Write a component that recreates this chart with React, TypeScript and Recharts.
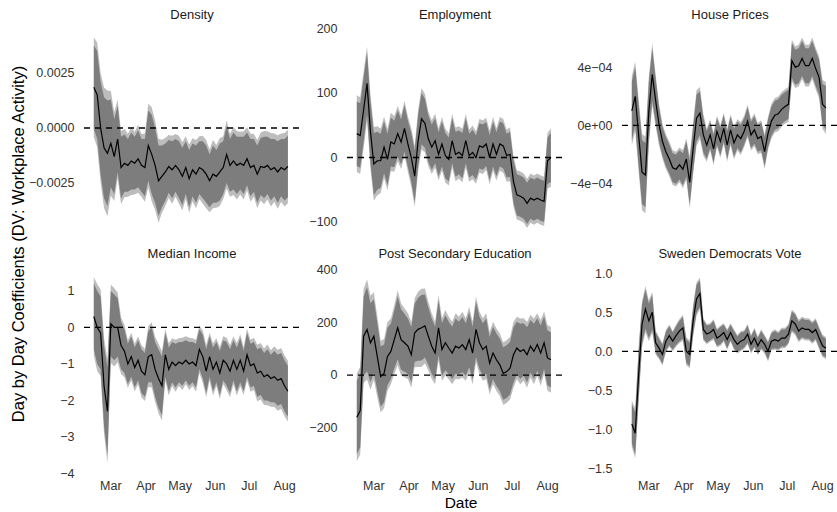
import React from 'react';
import { ComposedChart, Area, Line, XAxis, YAxis, ReferenceLine } from 'recharts';

// days since 15 Feb, sampled every third day
const days = [
  0, 3, 6, 9, 12, 15, 18, 21, 24, 27, 30, 33, 36, 39, 42, 45, 48, 51, 54, 57,
  60, 63, 66, 69, 72, 75, 78, 81, 84, 87, 90, 93, 96, 99, 102, 105, 108, 111, 114, 117,
  120, 123, 126, 129, 132, 135, 138, 141, 144, 147, 150, 153, 156, 159, 162, 165, 168, 171,
];
const monthTicks = [15, 46, 76, 107, 137, 168];
const monthLabels = ['Mar', 'Apr', 'May', 'Jun', 'Jul', 'Aug'];

// coefficient estimates and 90% interval half-widths, one pair per covariate
const density = [
  0.00185, 0.0015, 0.0, -0.0009, -0.00115, -0.0007, -0.0013, -0.0005, -0.0018, -0.0016,
  -0.0017, -0.0015, -0.0016, -0.0014, -0.0017, -0.0018, -0.0008, -0.0012, -0.0017, -0.0024,
  -0.0022, -0.002, -0.00175, -0.0019, -0.0017, -0.0019, -0.0022, -0.0018, -0.0023, -0.0019,
  -0.0021, -0.0018, -0.0019, -0.0021, -0.0024, -0.0021, -0.0022, -0.002, -0.0018, -0.0012,
  -0.0017, -0.0015, -0.0017, -0.0016, -0.0017, -0.0014, -0.0018, -0.0017, -0.0021, -0.00175,
  -0.0018, -0.0017, -0.0019, -0.0018, -0.002, -0.0018, -0.0019, -0.00175,
];
const densityCi = [
  0.0019, 0.002, 0.0021, 0.0023, 0.0024, 0.002, 0.0017, 0.0015, 0.0014, 0.0013,
  0.0012, 0.0013, 0.0012, 0.0013, 0.0012, 0.0013, 0.0016, 0.0018, 0.0017, 0.0016,
  0.0014, 0.0013, 0.0012, 0.0013, 0.0012, 0.0013, 0.0013, 0.0012, 0.0013, 0.0012,
  0.0013, 0.0012, 0.0013, 0.0013, 0.0012, 0.0013, 0.0012, 0.0013, 0.0012, 0.0013,
  0.0012, 0.0013, 0.0013, 0.0012, 0.0013, 0.0012, 0.0013, 0.0012, 0.0013, 0.0013,
  0.0014, 0.0013, 0.0014, 0.0013, 0.0014, 0.0013, 0.0014, 0.0014,
];

const employment = [
  37, 34, 74, 115, 40, -10, -5, -5, 16, -3,
  24, 21, 37, 24, 45, 21, 0, -29, 26, 60,
  53, 29, 16, 26, 5, 21, 3, -3, 26, 5,
  8, 3, 26, 3, 8, 0, 18, 16, 21, 0,
  21, 5, 21, 18, 3, 5, -37, -58, -60, -63,
  -71, -63, -66, -63, -66, -68, -5, 0,
];
const employmentCi = [
  50, 50, 50, 48, 48, 48, 45, 42, 40, 40,
  38, 36, 36, 35, 36, 36, 38, 40, 40, 40,
  38, 36, 35, 35, 34, 35, 35, 34, 35, 35,
  34, 35, 35, 34, 35, 34, 35, 35, 34, 35,
  35, 34, 35, 35, 34, 35, 33, 32, 32, 32,
  32, 32, 32, 32, 32, 32, 36, 38,
];

const housePrices = [
  1.0e-4, 2.0e-4, -0.65e-4, -3.2e-4, -3.4e-4, 1.0e-4, 3.5e-4, 1.7e-4, 0.05e-4, -1.1e-4,
  -1.8e-4, -2.3e-4, -2.9e-4, -3.0e-4, -2.7e-4, -3.0e-4, -2.3e-4, -3.9e-4, -1.6e-4, 0.5e-4,
  0.85e-4, -0.65e-4, -1.35e-4, -0.65e-4, -1.6e-4, -0.4e-4, -1.1e-4, -0.2e-4, -1.35e-4, -0.3e-4,
  -1.2e-4, -0.65e-4, -0.9e-4, -0.4e-4, 0.3e-4, -0.65e-4, -0.3e-4, -0.9e-4, -0.75e-4, -1.8e-4,
  -0.55e-4, 0.3e-4, 0.7e-4, 0.8e-4, 1.1e-4, 1.3e-4, 1.45e-4, 4.45e-4, 4.0e-4, 4.1e-4,
  4.6e-4, 4.1e-4, 4.1e-4, 4.6e-4, 3.9e-4, 3.3e-4, 1.45e-4, 1.2e-4,
];
const housePricesCi = [
  2.0e-4, 2.0e-4, 2.1e-4, 2.2e-4, 2.2e-4, 2.0e-4, 1.8e-4, 1.5e-4, 1.2e-4, 1.0e-4,
  1.0e-4, 1.0e-4, 1.0e-4, 1.0e-4, 1.0e-4, 1.1e-4, 1.2e-4, 1.5e-4, 1.5e-4, 1.6e-4,
  1.5e-4, 1.2e-4, 0.95e-4, 0.9e-4, 0.95e-4, 0.9e-4, 0.95e-4, 0.9e-4, 0.95e-4, 0.9e-4,
  0.95e-4, 0.9e-4, 0.95e-4, 0.9e-4, 0.95e-4, 0.9e-4, 0.95e-4, 0.9e-4, 0.95e-4, 1.0e-4,
  0.95e-4, 1.0e-4, 1.0e-4, 1.0e-4, 1.0e-4, 1.0e-4, 1.0e-4, 1.2e-4, 1.2e-4, 1.2e-4,
  1.2e-4, 1.2e-4, 1.2e-4, 1.2e-4, 1.2e-4, 1.2e-4, 1.4e-4, 1.5e-4,
];

const medianIncome = [
  0.3, 0.0, -0.15, -1.6, -2.3, 0.1, 0.0, 0.0, -0.5, -0.65,
  -1.0, -0.8, -1.1, -0.9, -1.2, -1.3, -0.8, -0.75, -1.15, -1.4,
  -1.6, -0.75, -1.15, -0.95, -1.05, -0.95, -1.0, -0.9, -1.0, -0.95,
  -1.05, -0.6, -0.8, -1.2, -0.8, -1.15, -0.95, -1.25, -0.9, -1.0,
  -1.2, -0.9, -1.15, -0.9, -1.2, -0.75, -1.05, -1.0, -1.25, -1.2,
  -1.35, -1.3, -1.4, -1.35, -1.45, -1.4, -1.6, -1.75,
];
const medianIncomeCi = [
  0.9, 1.0, 1.0, 1.1, 1.2, 0.9, 0.9, 0.8, 0.65, 0.6,
  0.55, 0.55, 0.55, 0.55, 0.6, 0.6, 0.7, 0.75, 0.75, 0.8,
  0.8, 0.6, 0.6, 0.55, 0.6, 0.55, 0.6, 0.55, 0.6, 0.55,
  0.6, 0.55, 0.6, 0.6, 0.55, 0.6, 0.55, 0.6, 0.55, 0.6,
  0.6, 0.55, 0.6, 0.6, 0.55, 0.6, 0.6, 0.6, 0.65, 0.65,
  0.65, 0.7, 0.65, 0.7, 0.7, 0.7, 0.7, 0.7,
];

const postSecondary = [
  -161, -135, 148, 174, 123, 148, 71, -6, 6, 71,
  90, 135, 180, 135, 123, 110, 77, 161, 174, 180,
  187, 148, 110, 84, 180, 97, 123, 103, 84, 110,
  103, 116, 97, 135, 84, 174, 123, 97, 110, 45,
  84, 58, 39, 6, 13, 26, 77, 103, 90, 97,
  77, 110, 90, 116, 84, 123, 65, 58,
];
const postSecondaryCi = [
  140, 140, 150, 160, 150, 140, 130, 115, 110, 110,
  105, 110, 120, 115, 110, 105, 105, 110, 120, 125,
  120, 110, 105, 100, 105, 100, 105, 100, 100, 105,
  100, 105, 100, 105, 100, 105, 100, 100, 105, 100,
  100, 100, 100, 100, 100, 100, 105, 100, 105, 100,
  105, 100, 105, 100, 105, 100, 105, 105,
];

const swedenDemocrats = [
  -0.93, -1.05, -0.3, 0.35, 0.54, 0.39, 0.5, 0.11, 0.04, -0.04,
  0.13, 0.2, 0.13, 0.2, 0.26, 0.3, 0.0, -0.04, 0.39, 0.67,
  0.74, 0.28, 0.22, 0.24, 0.28, 0.17, 0.2, 0.24, 0.15, 0.24,
  0.15, 0.09, 0.13, 0.15, 0.22, 0.09, 0.17, 0.07, 0.15, 0.09,
  0.0, 0.13, 0.15, 0.13, 0.17, 0.17, 0.22, 0.39, 0.35, 0.26,
  0.3, 0.28, 0.28, 0.24, 0.28, 0.17, 0.07, 0.04,
];
const swedenDemocratsCi = [
  0.25, 0.27, 0.3, 0.25, 0.25, 0.22, 0.22, 0.13, 0.12, 0.12,
  0.12, 0.12, 0.11, 0.12, 0.13, 0.14, 0.15, 0.15, 0.17, 0.18,
  0.17, 0.12, 0.11, 0.1, 0.11, 0.1, 0.11, 0.1, 0.11, 0.1,
  0.11, 0.1, 0.11, 0.1, 0.11, 0.1, 0.11, 0.1, 0.11, 0.1,
  0.11, 0.1, 0.11, 0.1, 0.11, 0.11, 0.11, 0.12, 0.12, 0.12,
  0.12, 0.12, 0.12, 0.12, 0.12, 0.12, 0.12, 0.12,
];

// outer (95%) band relative to the inner (90%) one
const Z_RATIO = 1.96 / 1.645;

const FONT = '"Liberation Sans", Arial, Helvetica, sans-serif';
const AXIS_W = 70;
const PANEL_W = 216;
const PANEL_H = 208;
const PAD_TOP = 12; // room for the top tick label
const X_DOMAIN = [-8.65, 181.65];
const COL_X = [84, 347, 622];
const ROW_Y = [23.5, 265];
const TITLE_Y = [15, 254];

const minus = (s: string) => s.replace(/-/g, '\u2212');
const sci = (v: number) => {
  if (v === 0) return '0e+00';
  const exp = Math.floor(Math.log10(Math.abs(v)));
  const mant = Math.round(v / Math.pow(10, exp));
  const e = exp < 0 ? `-${String(-exp).padStart(2, '0')}` : `+${String(exp).padStart(2, '0')}`;
  return minus(`${mant}e${e}`);
};

interface PanelProps {
  title: string;
  mean: number[];
  ci: number[];
  domain: number[];
  ticks: number[];
  fmt: (v: number) => string;
  col: number;
  row: number;
}

function CoefPanel({ title, mean, ci, domain, ticks, fmt, col, row }: PanelProps) {
  const rows = days.map((day, i) => ({
    day,
    coef: mean[i],
    inner: [mean[i] - ci[i], mean[i] + ci[i]],
    outer: [mean[i] - ci[i] * Z_RATIO, mean[i] + ci[i] * Z_RATIO],
  }));
  const showDates = row === 1;
  const x0 = COL_X[col];
  return (
    <>
      <div
        style={{
          position: 'absolute',
          left: x0 + PANEL_W / 2 - 120,
          top: TITLE_Y[row] - 8,
          width: 240,
          lineHeight: '16px',
          textAlign: 'center',
          fontSize: 13,
          color: '#1a1a1a',
        }}
      >
        {title}
      </div>
      <div style={{ position: 'absolute', left: x0 - AXIS_W, top: ROW_Y[row] - PAD_TOP }}>
        <ComposedChart
          width={AXIS_W + PANEL_W}
          height={PAD_TOP + PANEL_H + (showDates ? 26 : 0)}
          data={rows}
          margin={{ top: PAD_TOP, right: 0, bottom: 0, left: 0 }}
        >
          <XAxis
            dataKey="day"
            type="number"
            domain={X_DOMAIN}
            allowDataOverflow
            ticks={monthTicks}
            interval={0}
            tickFormatter={(v: number) => monthLabels[monthTicks.indexOf(v)]}
            hide={!showDates}
            height={26}
            axisLine={false}
            tickLine={false}
            tickSize={0}
            tickMargin={8}
            tick={{ fill: '#333', fontSize: 12.5, fontFamily: FONT }}
          />
          <YAxis
            type="number"
            domain={domain}
            allowDataOverflow
            ticks={ticks}
            interval={0}
            tickFormatter={fmt}
            width={AXIS_W}
            axisLine={false}
            tickLine={false}
            tickSize={0}
            tickMargin={9.5}
            tick={{ fill: '#333', fontSize: 12.5, fontFamily: FONT }}
          />
          <Area dataKey="outer" type="linear" stroke="none" fill="#bdbdbd" fillOpacity={1} isAnimationActive={false} />
          <Area dataKey="inner" type="linear" stroke="none" fill="#7d7d7d" fillOpacity={1} isAnimationActive={false} />
          <ReferenceLine y={0} stroke="#000" strokeWidth={1.3} strokeDasharray="6 5" />
          <Line dataKey="coef" type="linear" stroke="#000" strokeWidth={1.2} dot={false} isAnimationActive={false} />
        </ComposedChart>
      </div>
    </>
  );
}

export default function App() {
  return (
    <div
      style={{
        position: 'absolute',
        left: 0,
        top: 0,
        width: 837,
        height: 512,
        overflow: 'hidden',
        background: '#fff',
        fontFamily: FONT,
      }}
    >
      <CoefPanel title="Density" mean={density} ci={densityCi} col={0} row={0}
        domain={[-0.00473, 0.00473]} ticks={[-0.0025, 0, 0.0025]} fmt={(v) => minus(v.toFixed(4))} />
      <CoefPanel title="Employment" mean={employment} ci={employmentCi} col={1} row={0}
        domain={[-115.5, 207]} ticks={[-100, 0, 100, 200]} fmt={(v) => minus(String(v))} />
      <CoefPanel title="House Prices" mean={housePrices} ci={housePricesCi} col={2} row={0}
        domain={[-7.31e-4, 6.96e-4]} ticks={[-4e-4, 0, 4e-4]} fmt={sci} />
      <CoefPanel title="Median Income" mean={medianIncome} ci={medianIncomeCi} col={0} row={1}
        domain={[-3.99, 1.71]} ticks={[-4, -3, -2, -1, 0, 1]} fmt={(v) => minus(String(v))} />
      <CoefPanel title="Post Secondary Education" mean={postSecondary} ci={postSecondaryCi} col={1} row={1}
        domain={[-373, 419]} ticks={[-200, 0, 200, 400]} fmt={(v) => minus(String(v))} />
      <CoefPanel title="Sweden Democrats Vote" mean={swedenDemocrats} ci={swedenDemocratsCi} col={2} row={1}
        domain={[-1.56, 1.106]} ticks={[-1.5, -1, -0.5, 0, 0.5, 1]} fmt={(v) => minus(v.toFixed(1))} />
      <div
        style={{
          position: 'absolute',
          left: 18 - 200,
          top: 244 - 9,
          width: 400,
          height: 18,
          lineHeight: '18px',
          textAlign: 'center',
          fontSize: 16.5,
          color: '#000',
          transform: 'rotate(-90deg)',
        }}
      >
        Day by Day Coefficients (DV: Workplace Activity)
      </div>
      <div
        style={{
          position: 'absolute',
          left: 461 - 50,
          top: 503 - 9,
          width: 100,
          lineHeight: '18px',
          textAlign: 'center',
          fontSize: 15.5,
          color: '#000',
        }}
      >
        Date
      </div>
    </div>
  );
}
